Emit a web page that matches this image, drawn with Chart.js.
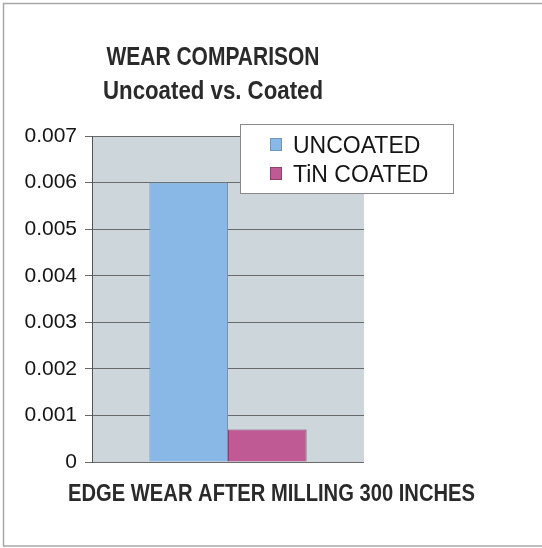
<!DOCTYPE html>
<html>
<head>
<meta charset="utf-8">
<script src="https://cdn.jsdelivr.net/npm/chart.js@4"></script>
<style>
html,body{margin:0;padding:0;background:#fff;}
canvas{display:block;}
</style>
</head>
<body>
<canvas id="c" width="542" height="548"></canvas>
<script>
// ---- data ----
const categories = ["EDGE WEAR AFTER MILLING 300 INCHES"];
const seriesNames = ["UNCOATED", "TiN COATED"];
const uncoatedValues = [0.006];
const tinCoatedValues = [0.0007];
const yTickLabels = ["0", "0.001", "0.002", "0.003", "0.004", "0.005", "0.006", "0.007"];
const titleLines = ["WEAR COMPARISON", "Uncoated vs. Coated"];
const xAxisTitle = "EDGE WEAR AFTER MILLING 300 INCHES";

const colors = ["#8ab8e6", "#c05a95"];
const borders = ["#6e95c0", "#8e3f6c"];

function squeezedText(ctx, text, cx, y, font, targetW, color) {
  ctx.save();
  ctx.font = font;
  ctx.fillStyle = color;
  ctx.textBaseline = "alphabetic";
  ctx.textAlign = "center";
  const w = ctx.measureText(text).width;
  const s = targetW / w;
  ctx.translate(cx, y);
  ctx.scale(s, 1);
  ctx.fillText(text, 0, 0);
  ctx.restore();
}

const decor = {
  id: "decor",
  beforeDraw(chart) {
    const ctx = chart.ctx;
    const a = chart.chartArea;
    ctx.save();
    ctx.fillStyle = "#fff";
    ctx.fillRect(0, 0, chart.width, chart.height);
    ctx.strokeStyle = "#a8a8a8";
    ctx.lineWidth = 1.5;
    ctx.strokeRect(3.5, 3.5, 700, 542.5);
    ctx.fillStyle = "#cdd6da";
    ctx.fillRect(a.left, a.top, a.right - a.left, a.bottom - a.top);
    ctx.restore();
  },
  afterDraw(chart) {
    const ctx = chart.ctx;
    // titles
    squeezedText(ctx, titleLines[0], 213, 65, "bold 26px 'Liberation Sans', Arial, sans-serif", 213, "#2a2a2a");
    squeezedText(ctx, titleLines[1], 213, 99, "bold 26px 'Liberation Sans', Arial, sans-serif", 220, "#2a2a2a");
    // x axis title
    squeezedText(ctx, xAxisTitle, 271.5, 501, "bold 23px 'Liberation Sans', Arial, sans-serif", 407, "#2a2a2a");
    // legend
    ctx.save();
    ctx.fillStyle = "#fff";
    ctx.fillRect(240, 124, 213, 69);
    ctx.strokeStyle = "#8a8a8a";
    ctx.lineWidth = 1;
    ctx.strokeRect(240.5, 124.5, 213, 69);
    ctx.font = "23px 'Liberation Sans', Arial, sans-serif";
    ctx.textAlign = "left";
    ctx.textBaseline = "alphabetic";
    const baselines = [153, 182];
    chart.data.datasets.forEach((ds, i) => {
      const b = baselines[i];
      ctx.fillStyle = ds.backgroundColor;
      ctx.fillRect(270, b - 15, 12, 13);
      ctx.strokeStyle = ds.borderColor;
      ctx.strokeRect(270.5, b - 14.5, 11, 12);
      ctx.fillStyle = "#151515";
      ctx.fillText(ds.label, 293, b);
    });
    ctx.restore();
  }
};

new Chart(document.getElementById("c"), {
  type: "bar",
  data: {
    labels: categories,
    datasets: [
      { label: seriesNames[0], data: uncoatedValues, backgroundColor: colors[0], borderColor: borders[0], borderWidth: 1 },
      { label: seriesNames[1], data: tinCoatedValues, backgroundColor: colors[1], borderColor: borders[1], borderWidth: 1 }
    ]
  },
  options: {
    responsive: false,
    animation: false,
    devicePixelRatio: 1,
    layout: { padding: { left: 0, top: 136, right: 178, bottom: 86 } },
    datasets: { bar: { categoryPercentage: 0.578, barPercentage: 1.0 } },
    plugins: { legend: { display: false }, title: { display: false }, tooltip: { enabled: false } },
    scales: {
      x: { display: false },
      y: {
        min: 0, max: 0.007,
        ticks: {
          stepSize: 0.001,
          padding: 8,
          color: "#151515",
          font: { family: "'Liberation Sans', Arial, sans-serif", size: 21 },
          callback: (v, i) => yTickLabels[i]
        },
        grid: { color: "#6a6a6a", lineWidth: 1, tickLength: 7, drawOnChartArea: true },
        border: { display: true, color: "#555", width: 1 },
        afterFit: (s) => { s.width = 92; }
      }
    }
  },
  plugins: [decor]
});
</script>
</body>
</html>
